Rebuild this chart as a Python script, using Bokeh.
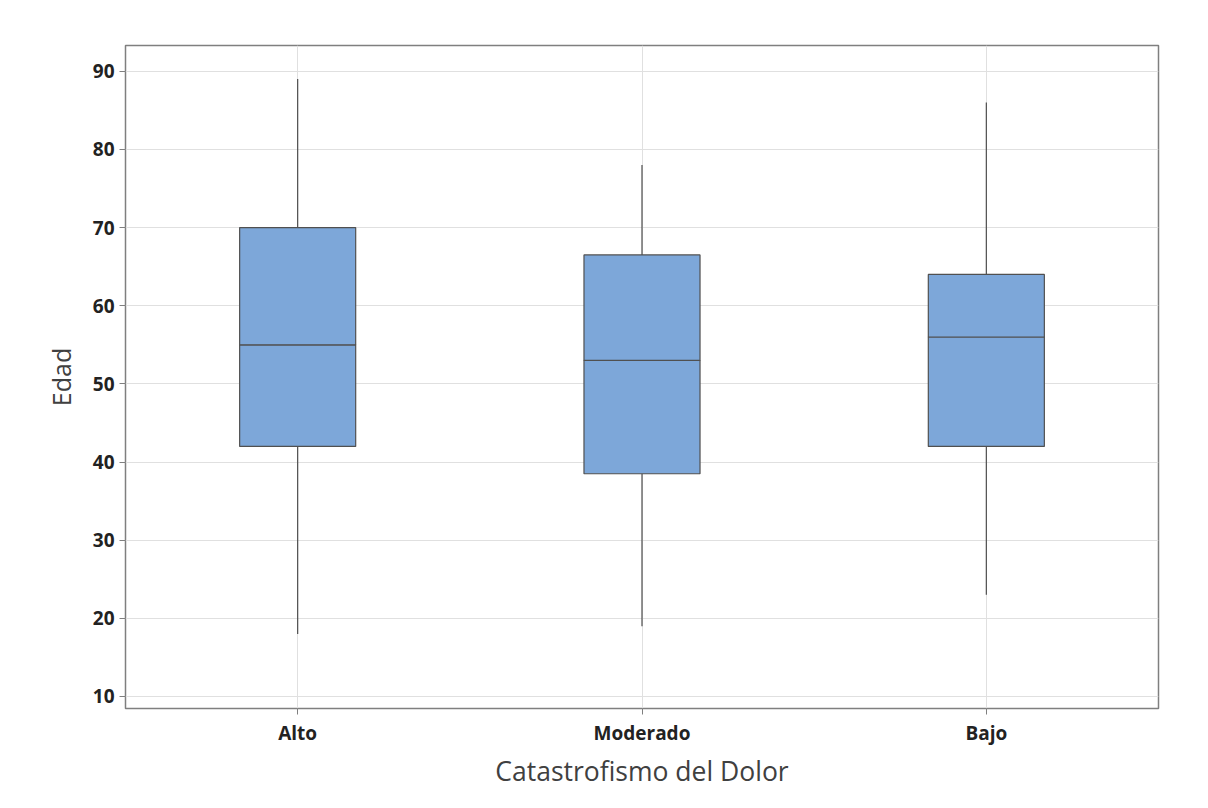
from bokeh.plotting import figure
from bokeh.models import Range1d, FactorRange, FixedTicker
from bokeh.embed import file_html
from bokeh.resources import INLINE

categories = ["Alto", "Moderado", "Bajo"]
lower_whisker = [18, 19, 23]
q1 = [42, 38.5, 42]
median = [55, 53, 56]
q3 = [70, 66.5, 64]
upper_whisker = [89, 78, 86]
y_ticks = [10, 20, 30, 40, 50, 60, 70, 80, 90]

FONT = "Open Sans"

p = figure(width=1208, height=808, output_backend="svg", toolbar_location=None,
           x_range=FactorRange(*categories), y_range=Range1d(8.46, 93.3),
           min_border_left=125, min_border_right=50, min_border_top=45, min_border_bottom=100)

p.background_fill_color = "white"
p.border_fill_color = "white"
p.outline_line_color = "#7f7f7f"
p.outline_line_width = 1.5

p.xgrid.grid_line_color = "#e0e0e0"
p.ygrid.grid_line_color = "#e0e0e0"
p.xgrid.grid_line_width = 1
p.ygrid.grid_line_width = 1

p.segment(x0=categories, y0=q3, x1=categories, y1=upper_whisker, line_color="#4d4d4d", line_width=1.2)
p.segment(x0=categories, y0=lower_whisker, x1=categories, y1=q1, line_color="#4d4d4d", line_width=1.2)
p.vbar(x=categories, bottom=q1, top=median, width=0.337, fill_color="#7da7d9", line_color="#505050", line_width=1.2)
p.vbar(x=categories, bottom=median, top=q3, width=0.337, fill_color="#7da7d9", line_color="#505050", line_width=1.2)

p.yaxis.ticker = FixedTicker(ticks=y_ticks)
p.yaxis.minor_tick_line_color = None
for ax in (p.xaxis[0], p.yaxis[0]):
    ax.axis_line_color = None
    ax.major_tick_line_color = "#7f7f7f"
    ax.major_tick_out = 6
    ax.major_tick_in = 0
    ax.major_label_text_font = FONT
    ax.major_label_text_font_size = "19px"
    ax.major_label_text_font_style = "bold"
    ax.major_label_text_color = "#222222"
    ax.axis_label_text_font = FONT
    ax.axis_label_text_font_size = "25px"
    ax.axis_label_text_font_style = "normal"
    ax.axis_label_text_color = "#404040"

p.xaxis.axis_label_text_font_size = "26.5px"
p.yaxis.axis_label = "Edad"
p.xaxis.axis_label = "Catastrofismo del Dolor"
p.yaxis.major_label_standoff = 5
p.xaxis.major_label_standoff = 5
p.xaxis.axis_label_standoff = 4
p.yaxis.axis_label_standoff = 12

open("out.html", "w").write(file_html(p, INLINE))
